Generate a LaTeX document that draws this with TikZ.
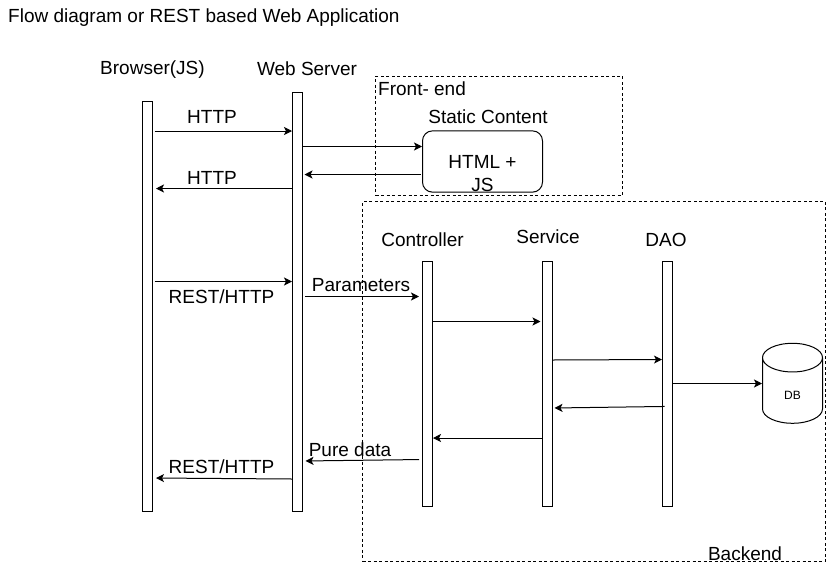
\documentclass[tikz,border=0pt]{standalone}
\usepackage{fontspec}
\setmainfont{Liberation Sans}
\usepackage{xcolor}
\usetikzlibrary{arrows.meta, positioning, shapes.geometric}

\begin{document}
\begin{tikzpicture}[
x=1pt, y=-1pt,
node distance=0pt and 109pt,
every node/.style={font=\fontsize{19}{23}\selectfont, inner sep=0pt},
barnode/.style={rectangle, draw=black, line width=1pt, fill=white, minimum width=10pt},
webbarnode/.style={barnode, minimum height=245pt},
regionnode/.style={rectangle, draw=black, line width=0.8pt, dash pattern=on 3pt off 2.5pt},
staticnode/.style={rectangle, rounded corners=10pt, draw=black, line width=1pt,
minimum width=120pt, minimum height=60pt, align=center},
dbnode/.style={cylinder, shape border rotate=90, aspect=1, draw=black, line width=1pt,
minimum width=60pt, minimum height=80pt, inner sep=6pt, font=\fontsize{12}{14}\selectfont},
arrownode/.style={-{Stealth[length=8pt, width=8pt, inset=2pt]}, line width=1pt, black}
]
\useasboundingbox (0,0) rectangle (827,568);

% dashed regions
\node[regionnode, minimum width=247pt, minimum height=119pt] (frontend) at (499,135.5) {};
\node[regionnode, minimum width=463pt, minimum height=359.5pt] (backend) at (594,381.25) {};

% lifelines
\node[barnode, minimum height=409.5pt] (browser) at (147.5,306.25) {};
\node[barnode, minimum height=419pt] (webserver) at (297.5,301.5) {};
\node[webbarnode] (controller) at (427.5,383.5) {};
\node[webbarnode, right=of controller] (service) {};
\node[webbarnode, right=of service] (dao) {};

\node[staticnode] (static) at (482.5,161.5) {\strut\\[-1pt]HTML +\\JS};
\node[dbnode] (db) at (792.5,395) {DB};

% texts
\node[anchor=west] (title) at (8,17.5) {Flow diagram or REST based Web Application};
\node (browsertext) at (152.5,70) {Browser(JS)};
\node (webservertext) at (307,69) {Web Server};
\node[anchor=west] (frontendtext) at (378,89) {Front- end};
\node (statictext) at (488,117) {Static Content};
\node (controllertext) at (422.5,240) {Controller};
\node (servicetext) at (548,237) {Service};
\node (daotext) at (666,240) {DAO};
\node (backendtext) at (745,553.5) {Backend};
\node (httpreq) at (212,117) {HTTP};
\node (httpres) at (212,178) {HTTP};
\node (restreq) at (221.5,297) {REST/HTTP};
\node (paramtext) at (361,285.5) {Parameters};
\node (puretext) at (350,450) {Pure data};
\node (restres) at (221.5,467) {REST/HTTP};

% messages
\draw[arrownode, shorten <=1.5pt] (browser.east |- 0,131) -- (webserver.west |- 0,131);
\draw[arrownode] (webserver.east |- 0,146.5) -- (static.west |- 0,146.5);
\draw[arrownode, shorten <=1.5pt, shorten >=1.5pt] (static.west |- 0,174.5) -- (webserver.east |- 0,174.5);
\draw[arrownode, shorten >=3pt] (webserver.west |- 0,188.5) -- (browser.east |- 0,188.5);
\draw[arrownode, shorten <=1.5pt] (browser.east |- 0,281.5) -- (webserver.west |- 0,281.5);
\draw[arrownode, shorten <=2pt, shorten >=3pt] (webserver.east |- 0,296.5) -- (controller.west |- 0,296.5);
\draw[arrownode, shorten >=1.5pt] (controller.east |- 0,321.5) -- (service.west |- 0,321.5);
\draw[arrownode] (service.east |- 0,360) -- (dao.west |- 0,359.5);
\draw[arrownode] (dao.east |- 0,383.5) -- (db.west |- 0,383.5);
\draw[arrownode, shorten <=-2.5pt, shorten >=1.5pt] (dao.west |- 0,406.5) -- (service.east |- 0,408);
\draw[arrownode] (service.west |- 0,438) -- (controller.east |- 0,438);
\draw[arrownode, shorten <=3pt, shorten >=2.5pt] (controller.west |- 0,459.5) -- (webserver.east |- 0,461);
\draw[arrownode, shorten >=3pt] (webserver.west |- 0,479) -- (browser.east |- 0,478);

\end{tikzpicture}
\end{document}
